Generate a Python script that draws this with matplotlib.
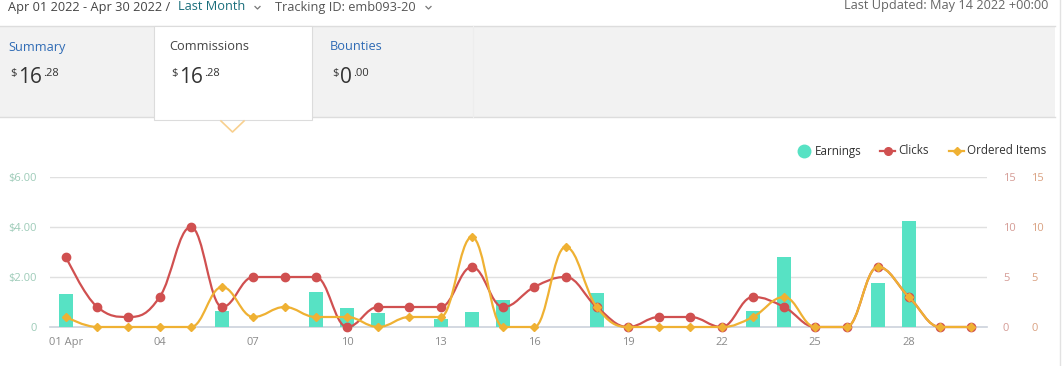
import matplotlib
matplotlib.use("Agg")
import matplotlib.pyplot as plt
from matplotlib.path import Path
from matplotlib.patches import PathPatch, Rectangle
import numpy as np

plt.rcParams['font.family'] = ['Open Sans', 'DejaVu Sans']

# ---------------- data ----------------
days = list(range(1, 31))
earnings = [1.32, 0, 0, 0, 0, 0.64, 0, 0, 1.40, 0.77, 0.56, 0, 0.32, 0.60, 1.08,
            0, 0, 1.36, 0, 0, 0, 0, 0.64, 2.80, 0, 0, 1.76, 4.24, 0, 0]
clicks = [7, 2, 1, 3, 10, 2, 5, 5, 5, 0, 2, 2, 2, 6, 2, 4, 5, 2, 0, 1,
          1, 0, 3, 2, 0, 0, 6, 3, 0, 0]
ordered = [1, 0, 0, 0, 0, 4, 1, 2, 1, 1, 0, 1, 1, 9, 0, 0, 8, 2, 0, 0,
           0, 0, 1, 3, 0, 0, 6, 3, 0, 0]
xtick_days = [1, 4, 7, 10, 13, 16, 19, 22, 25, 28]
xtick_labels = ["01 Apr", "04", "07", "10", "13", "16", "19", "22", "25", "28"]
left_ticks = [0, 2, 4, 6]
left_labels = ["0", "$2.00", "$4.00", "$6.00"]
right_ticks = [0, 5, 10, 15]

C_EARN = "#57E2C4"
C_CLICK = "#D05050"
C_ORD = "#EFB133"

W, H = 1062, 366
fig = plt.figure(figsize=(W / 100, H / 100), dpi=100)


def px_axes(x0, y0, x1, y1):
    return [x0 / W, 1 - y1 / H, (x1 - x0) / W, (y1 - y0) / H]


def spline_path(xs, ys, smoothing=1.5):
    """Highcharts-style spline: cubic Bezier control points from the data points."""
    n = len(xs)
    lc = [None] * n
    rc = [None] * n
    denom = smoothing + 1
    for i in range(1, n - 1):
        px, py = xs[i], ys[i]
        lx, ly = xs[i - 1], ys[i - 1]
        nx, ny = xs[i + 1], ys[i + 1]
        lcx = (smoothing * px + lx) / denom
        lcy = (smoothing * py + ly) / denom
        rcx = (smoothing * px + nx) / denom
        rcy = (smoothing * py + ny) / denom
        if rcx != lcx:
            corr = ((rcy - lcy) * (rcx - px)) / (rcx - lcx) + py - rcy
            lcy += corr
            rcy += corr
        if lcy > ly and lcy > py:
            lcy = max(ly, py); rcy = 2 * py - lcy
        elif lcy < ly and lcy < py:
            lcy = min(ly, py); rcy = 2 * py - lcy
        if rcy > ny and rcy > py:
            rcy = max(ny, py); lcy = 2 * py - rcy
        elif rcy < ny and rcy < py:
            rcy = min(ny, py); lcy = 2 * py - rcy
        lc[i] = (lcx, lcy)
        rc[i] = (rcx, rcy)
    verts = [(xs[0], ys[0])]
    codes = [Path.MOVETO]
    for i in range(1, n):
        c1 = rc[i - 1] if rc[i - 1] is not None else (xs[i - 1], ys[i - 1])
        c2 = lc[i] if lc[i] is not None else (xs[i], ys[i])
        verts += [c1, c2, (xs[i], ys[i])]
        codes += [Path.CURVE4] * 3
    return Path(verts, codes)


# ---------------- chart axes ----------------
x_left, x_right = 50.4, 987.0
y_top, y_bot = 177.0, 327.0
ax = fig.add_axes(px_axes(x_left, y_top, x_right, y_bot))
ax.set_xlim(0.5, 30.5)
ax.set_ylim(0, 6)
for s in ax.spines.values():
    s.set_visible(False)
ax.set_yticks(left_ticks)
ax.set_yticklabels(left_labels)
ax.tick_params(axis='y', length=0, pad=10, labelsize=8, labelcolor="#9DCBB8")
ax.set_xticks(xtick_days)
ax.set_xticklabels(xtick_labels)
ax.tick_params(axis='x', length=0, pad=7, labelsize=8, labelcolor="#8A8A8A")
for t in left_ticks[1:]:
    ax.axhline(t, color="#E0E0E0", lw=1.0, zorder=0)
ax.axhline(0, color="#CCD2DC", lw=1.2, zorder=0.5, clip_on=False)

ax.bar(days, earnings, width=0.45, color=C_EARN, zorder=2)

ax2 = ax.twinx()
ax3 = ax.twinx()
for a, pad, col in ((ax2, 11.5, "#D59C96"), (ax3, 31.7, "#DAA282")):
    a.set_ylim(0, 15)
    a.set_yticks(right_ticks)
    a.tick_params(axis='y', length=0, pad=pad, labelsize=8, labelcolor=col)
    for s in a.spines.values():
        s.set_visible(False)

ax2.add_patch(PathPatch(spline_path(days, clicks), fill=False, edgecolor=C_CLICK,
                        lw=1.6, clip_on=False, zorder=3))
ax2.plot(days, clicks, linestyle='none', marker='o', markersize=6,
         color=C_CLICK, clip_on=False, zorder=4)
ax3.add_patch(PathPatch(spline_path(days, ordered), fill=False, edgecolor=C_ORD,
                        lw=1.6, clip_on=False, zorder=3))
ax3.plot(days, ordered, linestyle='none', marker='D', markersize=4.2,
         color=C_ORD, clip_on=False, zorder=4)

# ---------------- overlay (header / tabs / legend) ----------------
ov = fig.add_axes([0, 0, 1, 1])
ov.set_xlim(0, W)
ov.set_ylim(H, 0)
ov.axis('off')

# gray tab band
ov.add_patch(Rectangle((0, 26.3), 1055, 91, facecolor="#F2F2F2", edgecolor="none", zorder=1))
ov.plot([0, 1055], [26.3, 26.3], color="#DDDDDD", lw=1, zorder=2)
ov.plot([0, 1055], [117.3, 117.3], color="#DDDDDD", lw=1, zorder=2)
ov.plot([473, 473], [26.3, 117.3], color="#EDEDED", lw=0.8, zorder=2)
ov.plot([1060, 1060], [0, 366], color="#E2E2E2", lw=1, zorder=2)
# selected tab (white)
ov.add_patch(Rectangle((153.5, 26.3), 158, 94, facecolor="white", edgecolor="#DCDCDC",
                       lw=0.8, zorder=3))
ov.plot([221, 232.5, 244], [121, 132, 121], color="#F8D08F", lw=1.2, zorder=4)

hdr_size = 9.2
ov.text(7.5, 7, "Apr 01 2022 - Apr 30 2022 / ", fontsize=hdr_size, color="#444444",
        va='center', ha='left', zorder=5)
ov.text(178, 7, "Last Month", fontsize=hdr_size, color="#1A6E7C",
        va='center', ha='left', zorder=5)
ov.plot([255, 257.5, 260], [6.5, 9, 6.5], color="#777777", lw=0.9, zorder=5)
ov.text(275, 7, "Tracking ID: emb093-20", fontsize=hdr_size, color="#555555",
        va='center', ha='left', zorder=5)
ov.plot([426, 428.5, 431], [6.5, 9, 6.5], color="#777777", lw=0.9, zorder=5)
ov.text(1048, 5, "Last Updated: May 14 2022 +00:00", fontsize=hdr_size, color="#666666",
        va='center', ha='right', zorder=5)

tabs = [("Summary", "#2F6BB5", 8, "16", ".28"),
        ("Commissions", "#444444", 169, "16", ".28"),
        ("Bounties", "#2F6BB5", 330, "0", ".00")]
for name, col, x0, big, small in tabs:
    ov.text(x0, 47, name, fontsize=hdr_size, color=col, va='center', ha='left', zorder=5)
    ov.text(x0 + 2, 76, "$", fontsize=8, color="#333333", va='baseline', ha='left', zorder=5)
    ov.text(x0 + 10, 83, big, fontsize=15, color="#333333", va='baseline', ha='left', zorder=5)
    bw = 25 if len(big) == 2 else 13.5
    ov.text(x0 + 10 + bw, 76, small, fontsize=8, color="#333333", va='baseline',
            ha='left', zorder=5)

# legend
ly = 151
lsz = 8.4
ov.plot([804], [ly], marker='o', markersize=9, color=C_EARN, linestyle='none', zorder=5)
ov.text(815, ly, "Earnings", fontsize=lsz, color="#333333", va='center', ha='left', zorder=5)
ov.plot([880, 895], [ly, ly], color=C_CLICK, lw=1.6, zorder=5)
ov.plot([887.5], [ly], marker='o', markersize=5.5, color=C_CLICK, zorder=6)
ov.text(898, ly, "Clicks", fontsize=lsz, color="#333333", va='center', ha='left', zorder=5)
ov.plot([949, 964], [ly, ly], color=C_ORD, lw=1.6, zorder=5)
ov.plot([956.5], [ly], marker='D', markersize=4, color=C_ORD, zorder=6)
ov.text(967, ly, "Ordered Items", fontsize=lsz, color="#333333", va='center', ha='left', zorder=5)

fig.savefig("out.png", dpi=100)
